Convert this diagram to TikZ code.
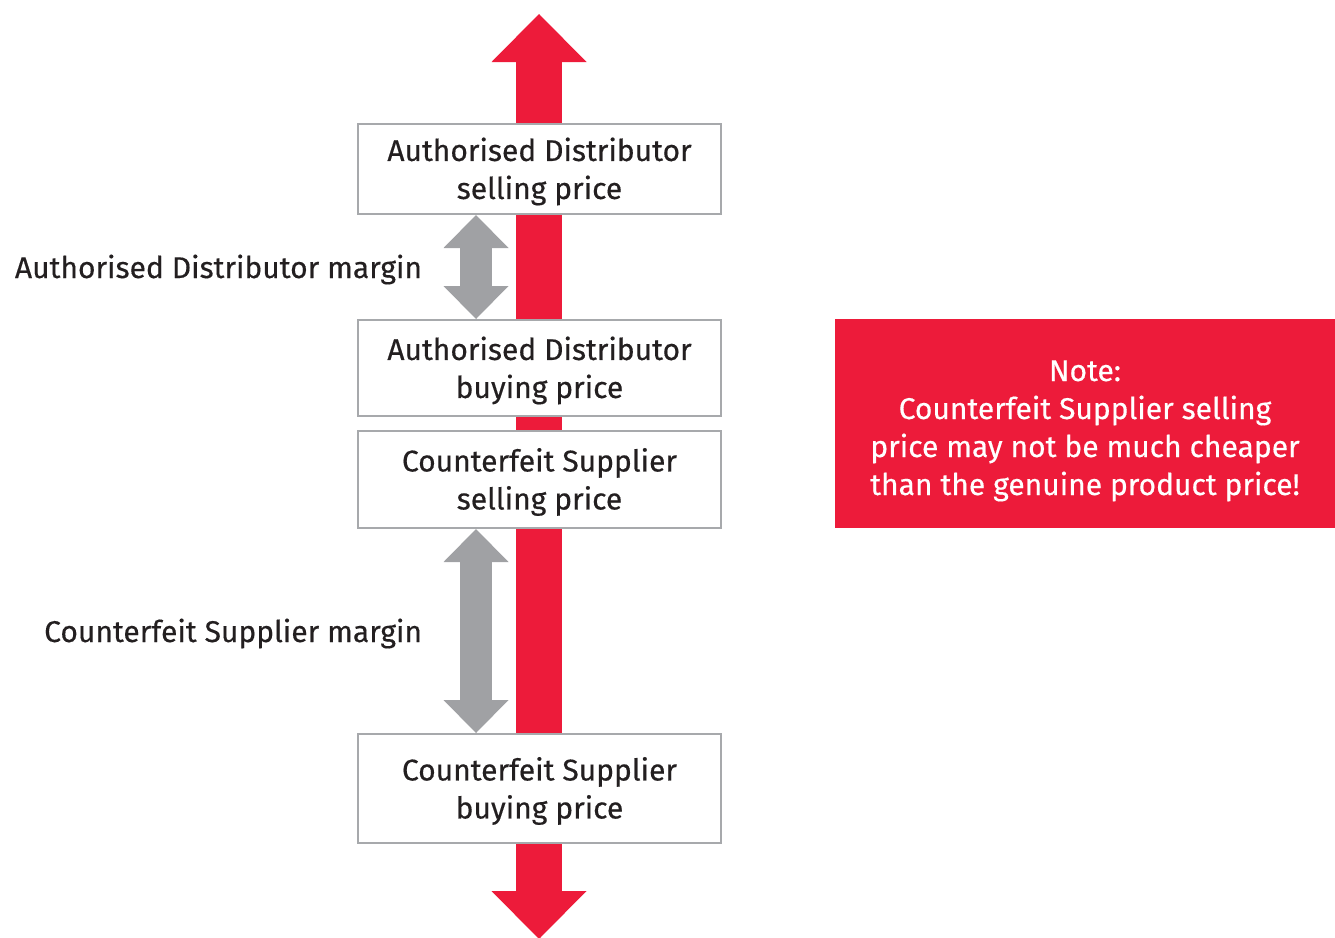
\documentclass[tikz,border=0pt]{standalone}
\usepackage{fontspec}
\setmainfont{Fira Sans}[FakeBold=0.4]
\usetikzlibrary{arrows.meta,backgrounds}
\definecolor{alertred}{HTML}{ED1B3A}
\definecolor{margingray}{HTML}{A0A1A4}
\definecolor{boxgray}{HTML}{A7A9AC}
\definecolor{inkgray}{HTML}{231F20}
\tikzset{
  pricebox/.style={draw=boxgray,line width=2pt,fill=white,minimum width=363pt,align=center,text=inkgray,font=\fontsize{30}{38}\selectfont,text depth=1.5pt},
  marginarrow/.style={draw=margingray,line width=32pt,{Triangle[length=33pt,width=65pt,line width=0pt]}-{Triangle[length=33pt,width=65pt,line width=0pt]}},
  pricearrow/.style={draw=alertred,line width=46pt,{Triangle[length=48pt,width=95pt,line width=0pt]}-{Triangle[length=48pt,width=95pt,line width=0pt]}},
  marginlabel/.style={anchor=east,inner sep=0pt,outer sep=0pt,yshift=-2.5pt,text=inkgray,font=\fontsize{30}{38}\selectfont},
  notebox/.style={fill=alertred,text=white,align=center,minimum width=500pt,minimum height=209pt,font=\fontsize{30}{38}\selectfont,text height=143pt,text depth=0pt}
}
\begin{document}
\begin{tikzpicture}[x=1pt,y=-1pt]
\useasboundingbox (0,0) rectangle (1335,937);
\node[pricebox,minimum height=90pt] (adsell) at (539.5,169) {Authorised Distributor\\selling price};
\node[pricebox,minimum height=96pt] (adbuy) at (539.5,368) {Authorised Distributor\\buying price};
\node[pricebox,minimum height=97pt] (cssell) at (539.5,479.5) {Counterfeit Supplier\\selling price};
\node[pricebox,minimum height=109pt] (csbuy) at (539.5,788.5) {Counterfeit Supplier\\buying price};
\node[notebox] (note) at (1085,423.5) {Note:\\Counterfeit Supplier selling\\price may not be much cheaper\\than the genuine product price!};
\coordinate (pricetop) at (539,14);
\coordinate (pricebottom) at (539,939);

% price scale behind the boxes
\begin{scope}[on background layer]
\draw[pricearrow] (pricetop) -- (pricebottom);
\end{scope}

% margins
\draw[marginarrow] ([xshift=-63.5pt]adsell.south) -- ([xshift=-63.5pt]adbuy.north) node[midway,marginlabel,xshift=-54pt] (admargin) {Authorised Distributor margin};
\draw[marginarrow] ([xshift=-63.5pt]cssell.south) -- ([xshift=-63.5pt]csbuy.north) node[midway,marginlabel,xshift=-54pt] (csmargin) {Counterfeit Supplier margin};
\end{tikzpicture}
\end{document}
